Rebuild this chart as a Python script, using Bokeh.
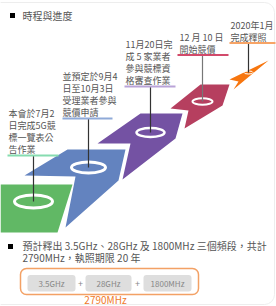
from bokeh.plotting import figure
from bokeh.models import Range1d
from bokeh.core.properties import value
from bokeh.embed import file_html
from bokeh.resources import INLINE

# ---------------- data ----------------
heading = "時程與進度"
step_colors = ["#61b865", "#6383bf", "#7452a3", "#b63f5f", "#f7760f"]
underline_colors = ["#86dcb0", "#8faad8", "#b9a3d8", "#d24a6b", "#f7a466"]
step_labels = [
    ["本會於7月2", "日完成5G競", "標一覽表公", "告作業"],
    ["並預定於9月4", "日至10月3日", "受理業者參與", "競價申請"],
    ["11月20日完", "成 5 家業者", "參與競標資", "格審查作業"],
    ["12 月 10 日", "開始競價"],
    ["2020年1月", "完成釋照"],
]
summary_lines = ["預計釋出 3.5GHz、28GHz 及 1800MHz 三個頻段，共計",
                 "2790MHz，執照期限 20 年"]
bands = ["3.5GHz", "28GHz", "1800MHz"]
total = "2790MHz"

# ---------------- layout ----------------
FONT = value("Noto Sans CJK TC")
arrow_polys = [
    [(0, 184), (72, 184), (57, 232), (0, 232)],
    [(24, 175), (67, 149), (125, 149), (118, 180), (65, 227), (75, 176)],
    [(97, 143), (140, 113), (182, 113), (175, 138), (122, 179), (130, 143)],
    [(170, 108), (200, 84), (229, 84), (222, 105), (184, 128), (188, 110)],
    [(229, 79), (268, 60), (233, 89), (238, 81)],
]
ring_xy = [(33, 201), (88, 167), (150, 132), (202, 101), (248, 72)]
ring_wh = [(38, 13), (34, 11), (28, 9), (20, 6.5), (9, 3)]
ring_lw = [3, 3, 2.5, 2, 1]
label_x = [8, 62, 125, 179, 230]
underline_y = [155, 118, 86, 54.5, 42.5]
underline_x = [(7, 58), (62, 112), (124, 175), (177, 228), (229, 275)]
leader_colors = ["#333333", "#333333", "#333333", "#777777", "#333333"]
LINE_H = 12
W, H = 276, 306

p = figure(width=W, height=H, x_range=Range1d(0, W), y_range=Range1d(H, 0),
           output_backend="svg", toolbar_location=None, min_border=0)
p.axis.visible = False
p.grid.visible = False
p.outline_line_color = None
p.background_fill_color = "white"
p.border_fill_color = "white"

# faint outer frame
p.quad(left=[-10], right=[274], top=[2], bottom=[304], fill_color=None,
       line_color="#ededed", line_width=1, border_radius=10)

# arrows
p.patches(xs=[[v[0] for v in poly] for poly in arrow_polys],
          ys=[[v[1] for v in poly] for poly in arrow_polys],
          fill_color=step_colors, line_color=None)

# rings
p.ellipse(x=[c[0] for c in ring_xy], y=[c[1] for c in ring_xy],
          width=[w[0] for w in ring_wh], height=[w[1] for w in ring_wh],
          fill_color=None, line_color="white", line_width=ring_lw)

# leader lines
p.segment(x0=[c[0] for c in ring_xy], y0=underline_y,
          x1=[c[0] for c in ring_xy], y1=[c[1] for c in ring_xy],
          line_color=leader_colors, line_width=1.2)

# underlines
p.segment(x0=[u[0] for u in underline_x], y0=underline_y,
          x1=[u[1] for u in underline_x], y1=underline_y,
          line_color=underline_colors, line_width=2)

# labels
tx, ty, tt = [], [], []
for i, lines in enumerate(step_labels):
    n = len(lines)
    for j, line in enumerate(lines):
        tx.append(label_x[i])
        ty.append(underline_y[i] - 6 - (n - 1 - j) * LINE_H)
        tt.append(line)
p.text(x=tx, y=ty, text=tt, text_font=FONT, text_font_size=value("9px"),
       text_color="#555555", text_baseline="middle", text_align="left")

# heading
p.scatter(x=[12, 10], y=[15, 246], marker="square", size=5, fill_color="black", line_color=None)
p.text(x=[22], y=[15], text=[heading], text_font=FONT, text_font_size=value("10px"),
       text_color="#555555", text_baseline="middle", text_align="left")

# summary text
p.text(x=[22, 22], y=[245, 257], text=summary_lines, text_font=FONT,
       text_font_size=value("10px"), text_color="#555555",
       text_baseline="middle", text_align="left")

# band boxes
p.quad(left=[20], right=[198], top=[268], bottom=[294], fill_color="white",
       line_color="#f3a165", line_width=1.5, border_radius=6)
box_l = [27, 85, 143]
box_r = [75, 131, 191]
p.quad(left=box_l, right=box_r, top=[274.5] * 3, bottom=[291] * 3,
       fill_color="#dedede", line_color=None, border_radius=3)
p.text(x=[(a + b) / 2 for a, b in zip(box_l, box_r)], y=[283] * 3, text=bands,
       text_font=FONT, text_font_size=value("8px"), text_color="#888888",
       text_baseline="middle", text_align="center")
p.text(x=[80, 137], y=[283] * 2, text=["+", "+"], text_font=FONT,
       text_font_size=value("9px"), text_color="#888888",
       text_baseline="middle", text_align="center")
p.text(x=[105], y=[298.5], text=[total], text_font=FONT, text_font_size=value("10px"),
       text_color="#f07a2a", text_baseline="middle", text_align="center")

open("out.html", "w").write(file_html(p, INLINE))
